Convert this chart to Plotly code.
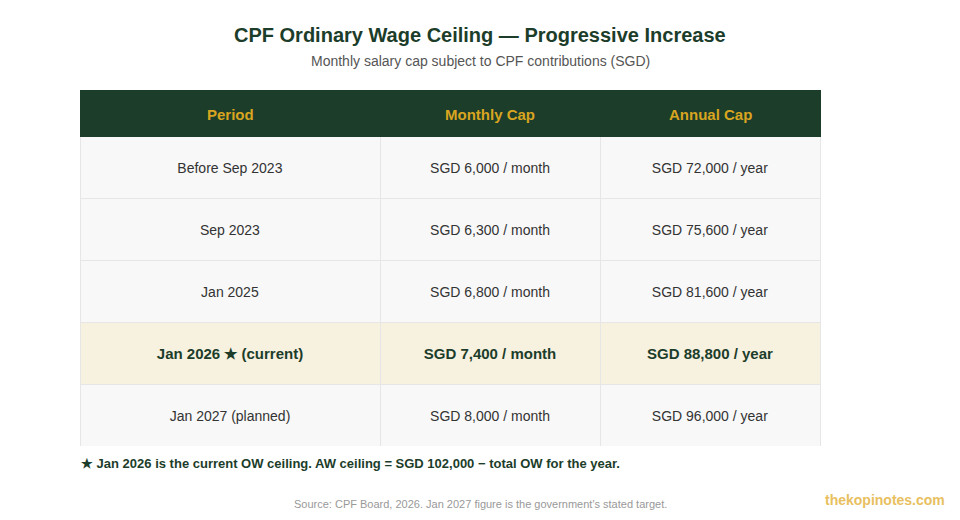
import plotly.graph_objects as go

# page is offset by the 8px body margin, so the figure covers page 8..952 x 8..512
OFF = 8
W, H = 960 - 2 * OFF, 520 - 2 * OFF

columns = ["Period", "Monthly Cap", "Annual Cap"]
periods = ["Before Sep 2023", "Sep 2023", "Jan 2025", "Jan 2026 ★ (current)", "Jan 2027 (planned)"]
monthly_cap = [6000, 6300, 6800, 7400, 8000]
annual_cap = [72000, 75600, 81600, 88800, 96000]
current_index = 3

monthly_txt = [f"SGD {v:,} / month" for v in monthly_cap]
annual_txt = [f"SGD {v:,} / year" for v in annual_cap]


def fmt(col):
    out = []
    for i, t in enumerate(col):
        if i == current_index:
            t = f"<span style='font-size:15px'><b>{t}</b></span>"
        else:
            t = f"<span style='font-size:14px'>{t}</span>"
        out.append("&nbsp;<br>" + t)
    return out


n = len(periods)
row_fill = ["#f7f1e0" if i == current_index else "#f8f8f8" for i in range(n)]
row_font = ["#1c3d2a" if i == current_index else "#333333" for i in range(n)]

FONT = "Liberation Sans, Arial, Helvetica, sans-serif"


def px(x):
    return (x - OFF) / W


def py(y):
    return 1 - (y - OFF) / H


col_w = [300, 220, 220]
x_left = 80
edges = [x_left]
for w in col_w:
    edges.append(edges[-1] + w)

fig = go.Figure(go.Table(
    domain=dict(x=[px(80), px(820)], y=[py(446), py(90)]),
    columnwidth=col_w,
    header=dict(
        values=["", "", ""],
        fill_color="#1c3d2a",
        line_color="#1c3d2a",
        font=dict(color="#d9a520", size=15, family=FONT),
        align="center",
        height=46,
    ),
    cells=dict(
        values=[fmt(periods), fmt(monthly_txt), fmt(annual_txt)],
        fill_color=[row_fill] * 3,
        line=dict(color="#e6e6e6", width=1),
        font=dict(color=[row_font] * 3, size=13, family=FONT),
        align="center",
        height=62,
    ),
))

annotations = [
    dict(text="<b>CPF Ordinary Wage Ceiling — Progressive Increase</b>",
         x=px(480), y=py(35), font=dict(size=20, color="#1c3d2a", family=FONT),
         xanchor="center"),
    dict(text="Monthly salary cap subject to CPF contributions (SGD)",
         x=px(480), y=py(61), font=dict(size=14, color="#555555", family=FONT),
         xanchor="center"),
    dict(text="<b>★ Jan 2026 is the current OW ceiling. AW ceiling = SGD 102,000 − total OW for the year.</b>",
         x=px(79), y=py(463), font=dict(size=13, color="#1c3d2a", family=FONT),
         xanchor="left"),
    dict(text="Source: CPF Board, 2026. Jan 2027 figure is the government's stated target.",
         x=px(480), y=py(504), font=dict(size=11, color="#999999", family=FONT),
         xanchor="center"),
    dict(text="<b>thekopinotes.com</b>",
         x=px(947), y=py(500), font=dict(size=14, color="#e8c060", family=FONT),
         xanchor="right"),
]
for i, c in enumerate(columns):
    annotations.append(dict(
        text=f"<b>{c}</b>", x=px((edges[i] + edges[i + 1]) / 2), y=py(114),
        font=dict(size=15, color="#d9a520", family=FONT), xanchor="center"))

for a in annotations:
    a.update(xref="paper", yref="paper", showarrow=False, yanchor="middle")

fig.update_layout(
    width=W, height=H,
    margin=dict(l=0, r=0, t=0, b=0),
    paper_bgcolor="white",
    font=dict(family=FONT),
    annotations=annotations,
)

fig.write_html("out.html")
